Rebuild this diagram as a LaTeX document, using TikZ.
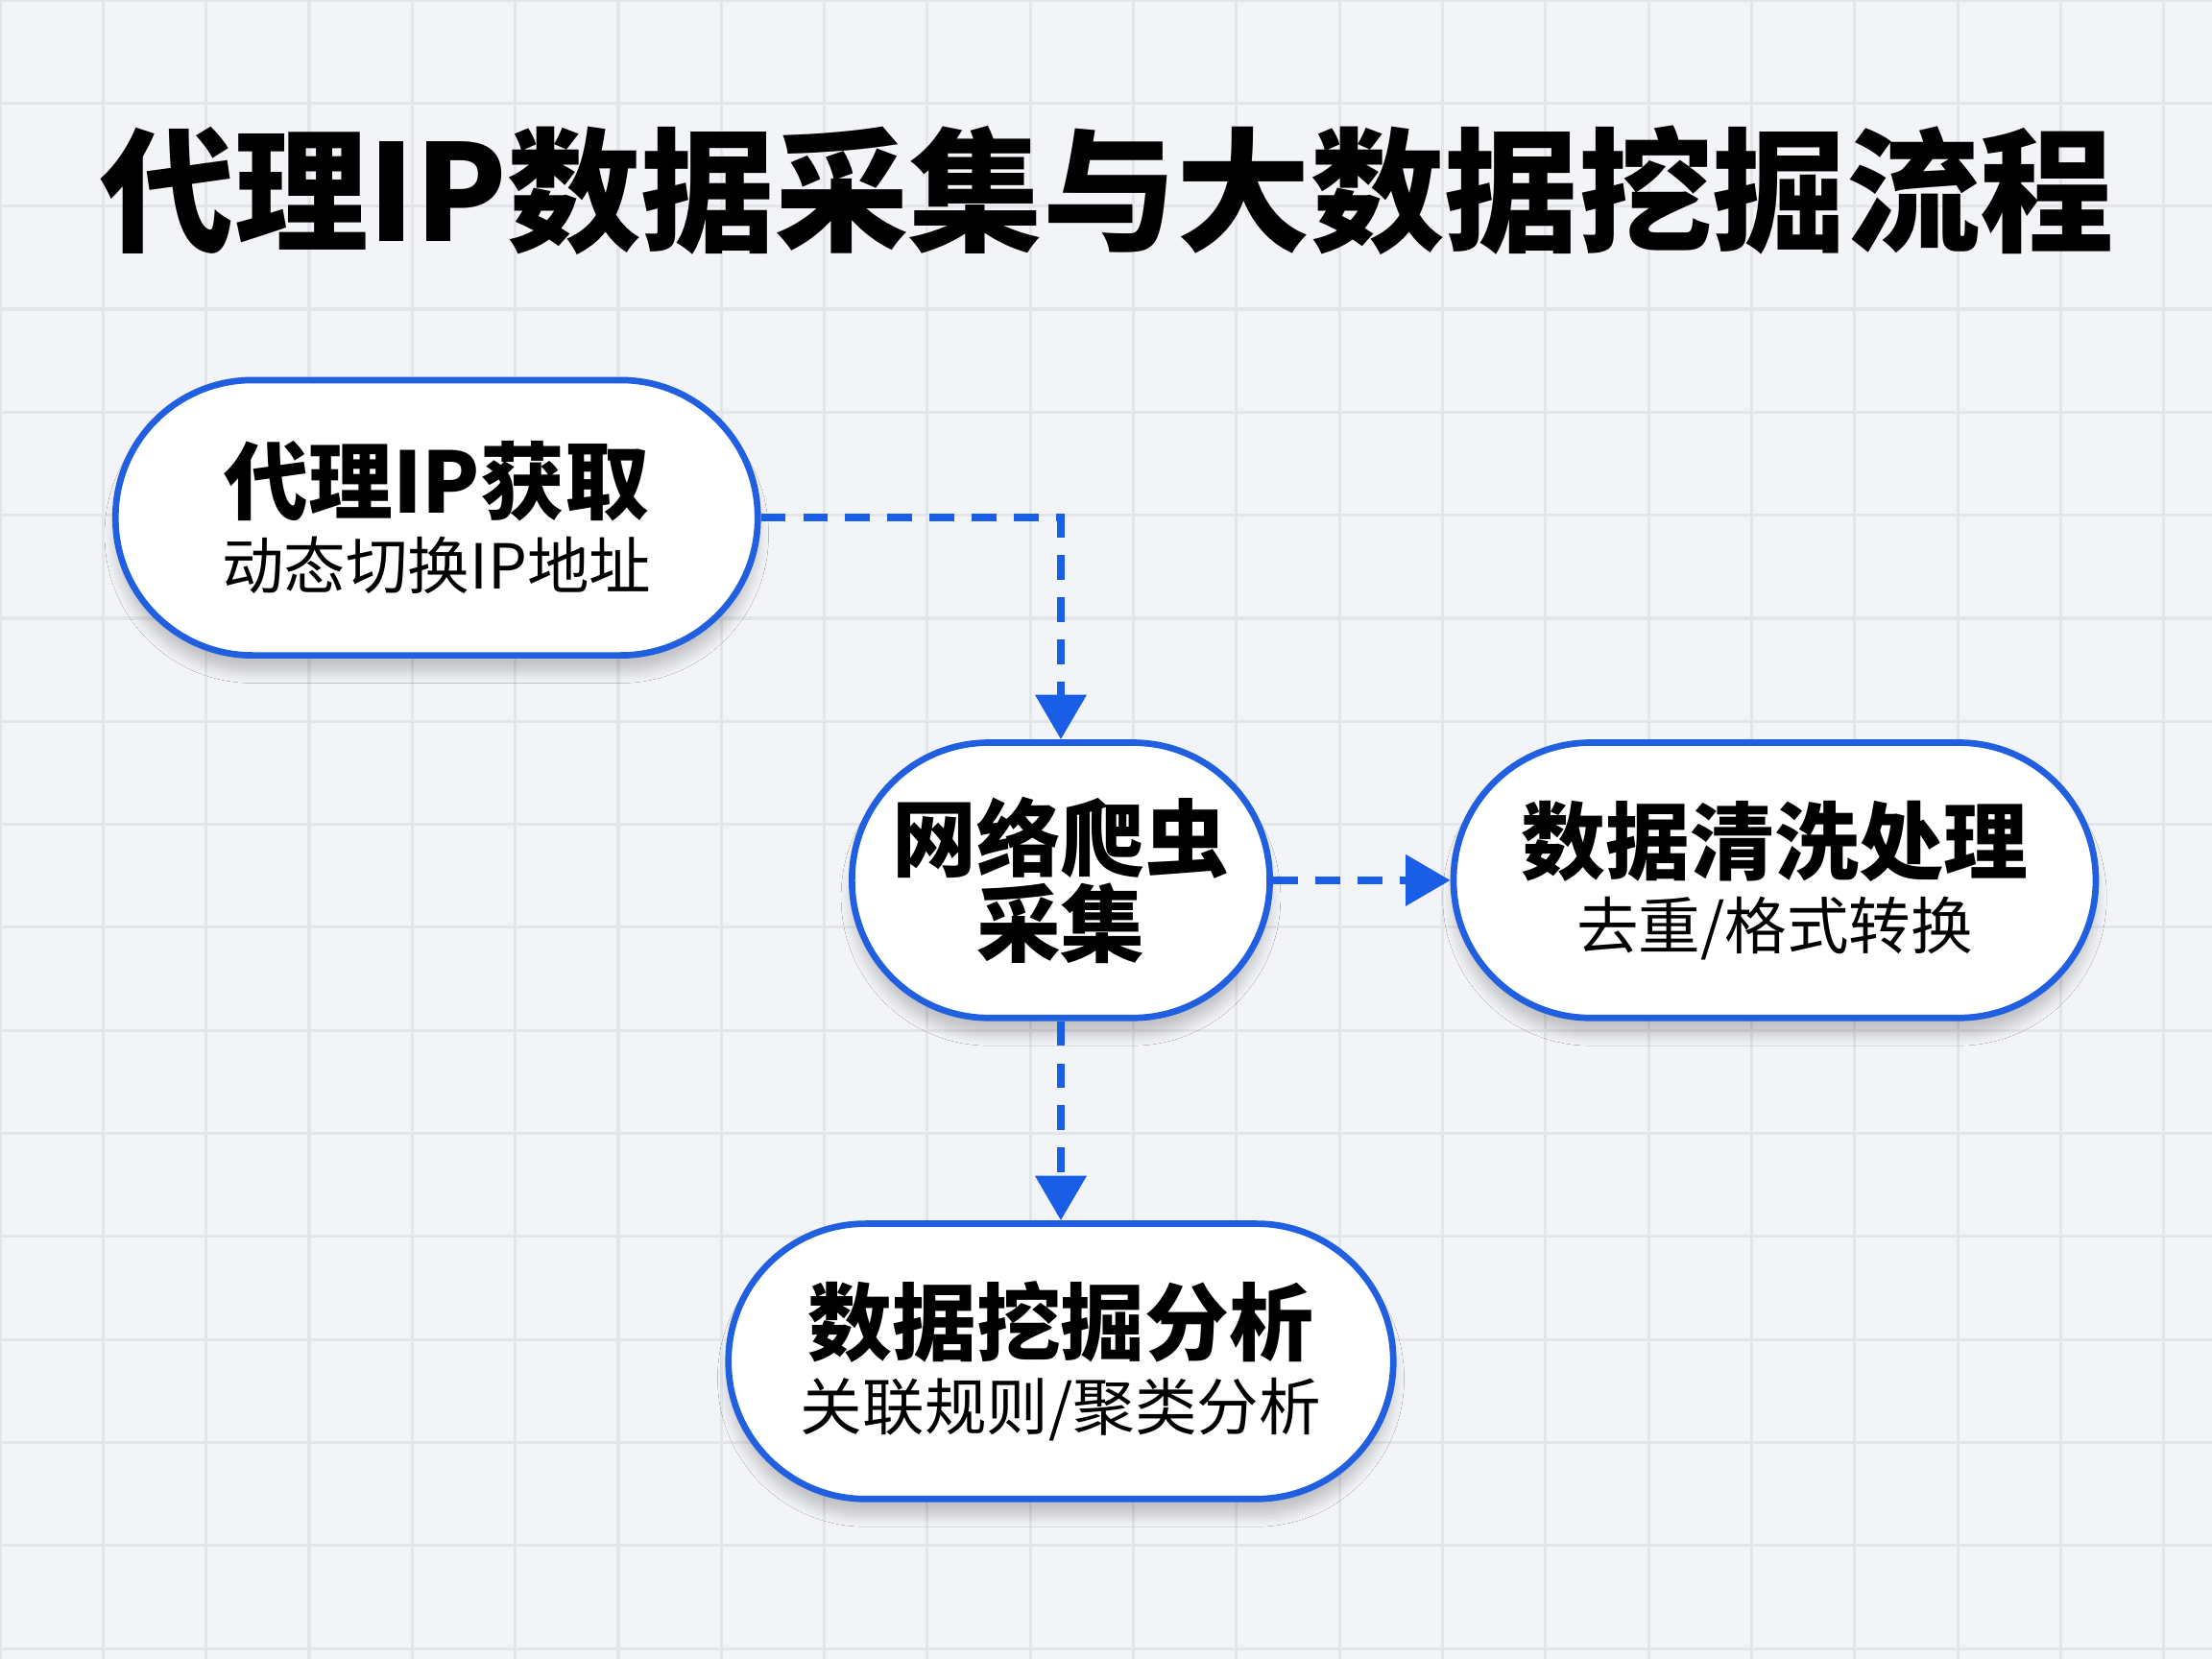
\documentclass[tikz,border=0pt]{standalone}
\usepackage{fontspec}
\setmainfont{Noto Sans CJK SC}
\usetikzlibrary{arrows.meta,shadows.blur}
\definecolor{bg}{HTML}{F3F4F7}
\definecolor{gridc}{HTML}{E3E5EA}
\definecolor{edge}{HTML}{1F5FE0}
\definecolor{arr}{HTML}{1A5EE8}
\tikzset{
  pill/.style={draw=edge,line width=1.3pt,fill=white,rounded corners=0.97cm,minimum height=1.95cm,align=center,inner sep=0pt,
    blur shadow={shadow blur steps=8,shadow xshift=0pt,shadow yshift=-0.12cm,shadow opacity=20,shadow blur extra rounding=0.97cm}},
  conn/.style={arr,line width=1.6pt,dash pattern=on 5pt off 3.5pt,-{Triangle[length=9pt,width=10pt]}},
}
\newcommand{\myhd}[1]{{\fontsize{17pt}{21pt}\selectfont\bfseries #1}}
\newcommand{\mysb}[1]{{\fontsize{12.5pt}{16pt}\selectfont #1}}
\begin{document}
\begin{tikzpicture}[x=0.01cm,y=-0.01cm]
\fill[bg] (0,0) rectangle (1568,1176);
\useasboundingbox (0,0) rectangle (1568,1176);
\draw[gridc,line width=0.6pt] (0,0) grid[step=0.73cm] (1568,1176);
\node[font=\fontsize{27pt}{32pt}\selectfont\bfseries] (title) at (785,135) {代理IP数据采集与大数据挖掘流程};
\node[pill,minimum width=4.55cm] (proxy) at (309.5,367) {\myhd{代理IP获取}\\[2pt]\mysb{动态切换IP地址}};
\node[pill,minimum width=2.96cm] (crawl) at (752,624) {\myhd{网络爬虫}\\[0pt]\myhd{采集}};
\node[pill,minimum width=4.55cm] (clean) at (1258,624) {\myhd{数据清洗处理}\\[2pt]\mysb{去重/格式转换}};
\node[pill,minimum width=4.71cm] (mine) at (752,965) {\myhd{数据挖掘分析}\\[2pt]\mysb{关联规则/聚类分析}};
\draw[conn] (proxy.east) -- (crawl.north |- proxy.east) -- (crawl.north);
\draw[conn] (crawl.east) -- (clean.west);
\draw[conn] (crawl.south) -- (mine.north);
\end{tikzpicture}
\end{document}
